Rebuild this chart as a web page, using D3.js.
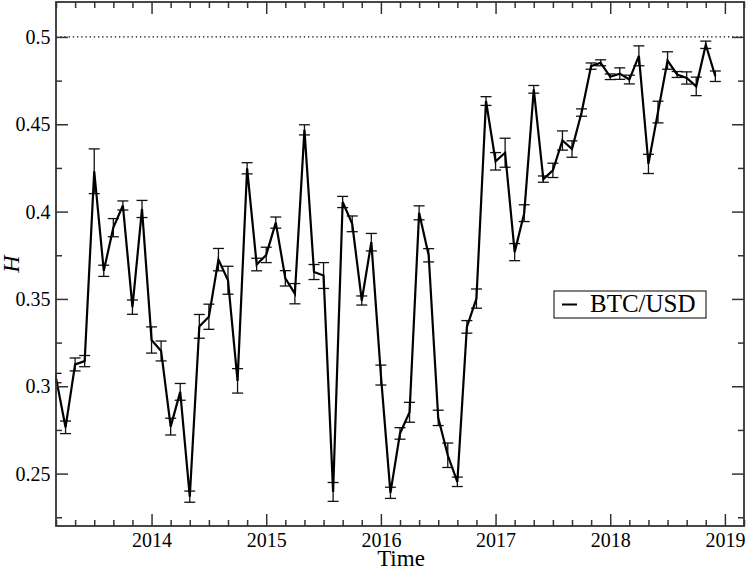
<!DOCTYPE html>
<html>
<head>
<meta charset="utf-8">
<script src="https://cdn.jsdelivr.net/npm/d3@7"></script>
<style>
html,body{margin:0;padding:0;background:#fff;}
svg{display:block;}
svg text{font-family:"Liberation Serif","Times New Roman",Times,serif !important;}
</style>
</head>
<body>
<svg id="chart" width="747" height="571"></svg>
<script>
// ---- data ----
const months = [
"2013-03","2013-04","2013-05","2013-06","2013-07","2013-08","2013-09","2013-10","2013-11","2013-12",
"2014-01","2014-02","2014-03","2014-04","2014-05","2014-06","2014-07","2014-08","2014-09","2014-10","2014-11","2014-12",
"2015-01","2015-02","2015-03","2015-04","2015-05","2015-06","2015-07","2015-08","2015-09","2015-10","2015-11","2015-12",
"2016-01","2016-02","2016-03","2016-04","2016-05","2016-06","2016-07","2016-08","2016-09","2016-10","2016-11","2016-12",
"2017-01","2017-02","2017-03","2017-04","2017-05","2017-06","2017-07","2017-08","2017-09","2017-10","2017-11","2017-12",
"2018-01","2018-02","2018-03","2018-04","2018-05","2018-06","2018-07","2018-08","2018-09","2018-10","2018-11","2018-12"];
const hValues = [
0.3047,0.2765,0.3125,0.3144,0.4231,0.3661,0.3908,0.4035,0.3453,0.4015,
0.3265,0.3202,0.2769,0.2968,0.2368,0.3343,0.3398,0.3725,0.3607,0.3031,0.4248,0.3697,
0.3752,0.3937,0.3618,0.3530,0.4468,0.3654,0.3634,0.2395,0.4055,0.3930,0.3491,0.3825,
0.3064,0.2390,0.2730,0.2851,0.3993,0.3750,0.2819,0.2605,0.2453,0.3340,0.3502,0.4633,
0.4288,0.4337,0.3768,0.3991,0.4700,0.4186,0.4236,0.4407,0.4358,0.4567,0.4833,0.4852,
0.4772,0.4790,0.4756,0.4892,0.4273,0.4570,0.4865,0.4785,0.4765,0.4717,0.4955,0.4775];
const hErrors = [
0.0027,0.0036,0.0037,0.0032,0.0128,0.0032,0.0052,0.0026,0.0041,0.0049,
0.0075,0.0057,0.0048,0.0048,0.0032,0.0068,0.0072,0.0064,0.0080,0.0070,0.0032,0.0036,
0.0044,0.0032,0.0044,0.0058,0.0029,0.0043,0.0074,0.0054,0.0032,0.0045,0.0026,0.0050,
0.0057,0.0032,0.0033,0.0057,0.0040,0.0038,0.0044,0.0070,0.0027,0.0036,0.0055,0.0025,
0.0050,0.0083,0.0049,0.0048,0.0022,0.0018,0.0041,0.0055,0.0047,0.0021,0.0018,0.0017,
0.0016,0.0033,0.0025,0.0057,0.0055,0.0062,0.0050,0.0017,0.0035,0.0053,0.0021,0.0030];
const xTickYears = [2014,2015,2016,2017,2018,2019];
const yTickValues = [0.25,0.3,0.35,0.4,0.45,0.5];
const yTickLabels = ["0.25","0.3","0.35","0.4","0.45","0.5"];
const refLevel = 0.5;
const seriesName = "BTC/USD";
const xTitle = "Time";
const yTitle = "H";

// ---- layout ----
const L = 56, R = 744, T = 2, B = 526;
const svg = d3.select("#chart");
const toYear = s => { const [y, m] = s.split("-").map(Number); return y + (m - 1) / 12; };
const x = d3.scaleLinear().domain([2013 + 2/12, 2019 + 2/12]).range([L, R]);
const y = d3.scaleLinear().domain([0.22, 0.52]).range([B, T]);

const data = months.map((m, i) => ({t: toYear(m), v: hValues[i], e: hErrors[i]}));

// reference dotted line
svg.append("line")
  .attr("x1", L).attr("x2", R).attr("y1", y(refLevel)).attr("y2", y(refLevel))
  .attr("stroke", "#000").attr("stroke-width", 1.3).attr("stroke-dasharray", "1.3 2.9");

// error bars
const eb = svg.append("g").attr("stroke", "#111").attr("stroke-width", 1.3).attr("fill", "none");
const cw = 5.5;
data.forEach(d => {
  const cx = x(d.t), y1 = y(d.v + d.e), y2 = y(d.v - d.e);
  eb.append("line").attr("x1", cx).attr("x2", cx).attr("y1", y1).attr("y2", y2);
  eb.append("line").attr("x1", Math.max(L, cx - cw)).attr("x2", cx + cw).attr("y1", y1).attr("y2", y1);
  eb.append("line").attr("x1", Math.max(L, cx - cw)).attr("x2", cx + cw).attr("y1", y2).attr("y2", y2);
});

// main line
svg.append("path").datum(data)
  .attr("fill", "none").attr("stroke", "#000").attr("stroke-width", 2.2)
  .attr("stroke-linejoin", "miter")
  .attr("d", d3.line().x(d => x(d.t)).y(d => y(d.v)));

// axes with inward ticks on all sides
const frameColor = "#333";
const minorX = d3.range(0, 37).map(i => 2013 + 2/12 + i / 6).filter(v => Math.abs(v - Math.round(v)) > 1e-6);
const minorY = [0.225,0.275,0.325,0.375,0.425,0.475];

function styleAxis(g) {
  g.select(".domain").remove();
  g.attr("font-family", "Liberation Serif");
  g.selectAll(".tick line").attr("stroke", frameColor).attr("stroke-width", 1.5);
  g.selectAll("text").attr("fill", "#000").attr("font-size", 20);
}
// bottom
svg.append("g").attr("transform", `translate(0,${B})`)
  .call(d3.axisBottom(x).tickValues(xTickYears).tickFormat(d3.format("d")).tickSizeInner(-12).tickSizeOuter(0).tickPadding(6.5))
  .call(styleAxis);
svg.append("g").attr("transform", `translate(0,${B})`)
  .call(d3.axisBottom(x).tickValues(minorX).tickFormat("").tickSizeInner(-6).tickSizeOuter(0))
  .call(styleAxis);
// top
svg.append("g").attr("transform", `translate(0,${T})`)
  .call(d3.axisTop(x).tickValues(xTickYears).tickFormat("").tickSizeInner(-12).tickSizeOuter(0))
  .call(styleAxis);
svg.append("g").attr("transform", `translate(0,${T})`)
  .call(d3.axisTop(x).tickValues(minorX).tickFormat("").tickSizeInner(-6).tickSizeOuter(0))
  .call(styleAxis);
// left
svg.append("g").attr("transform", `translate(${L},0)`)
  .call(d3.axisLeft(y).tickValues(yTickValues).tickFormat((d, i) => yTickLabels[i]).tickSizeInner(-12).tickSizeOuter(0).tickPadding(5.5))
  .call(styleAxis);
svg.append("g").attr("transform", `translate(${L},0)`)
  .call(d3.axisLeft(y).tickValues(minorY).tickFormat("").tickSizeInner(-6).tickSizeOuter(0))
  .call(styleAxis);
// right
svg.append("g").attr("transform", `translate(${R},0)`)
  .call(d3.axisRight(y).tickValues(yTickValues).tickFormat("").tickSizeInner(-12).tickSizeOuter(0))
  .call(styleAxis);
svg.append("g").attr("transform", `translate(${R},0)`)
  .call(d3.axisRight(y).tickValues(minorY).tickFormat("").tickSizeInner(-6).tickSizeOuter(0))
  .call(styleAxis);

// frame
svg.append("rect").attr("x", L).attr("y", T).attr("width", R - L).attr("height", B - T)
  .attr("fill", "none").attr("stroke", frameColor).attr("stroke-width", 1.8);

// axis titles
svg.append("text").attr("x", 401).attr("y", 566)
  .attr("text-anchor", "middle").attr("font-size", 23).text(xTitle);
svg.append("text").attr("transform", `translate(19,${(T + B) / 2}) rotate(-90)`)
  .attr("text-anchor", "middle").attr("font-size", 24).attr("font-style", "italic").text(yTitle);

// legend
const lg = svg.append("g");
lg.append("rect").attr("x", 554).attr("y", 291).attr("width", 152).attr("height", 27)
  .attr("fill", "#fff").attr("stroke", "#000").attr("stroke-width", 1);
lg.append("line").attr("x1", 562).attr("x2", 577).attr("y1", 304.5).attr("y2", 304.5)
  .attr("stroke", "#000").attr("stroke-width", 2);
lg.append("text").attr("x", 590).attr("y", 312).attr("font-size", 25).text(seriesName);
</script>
</body>
</html>
